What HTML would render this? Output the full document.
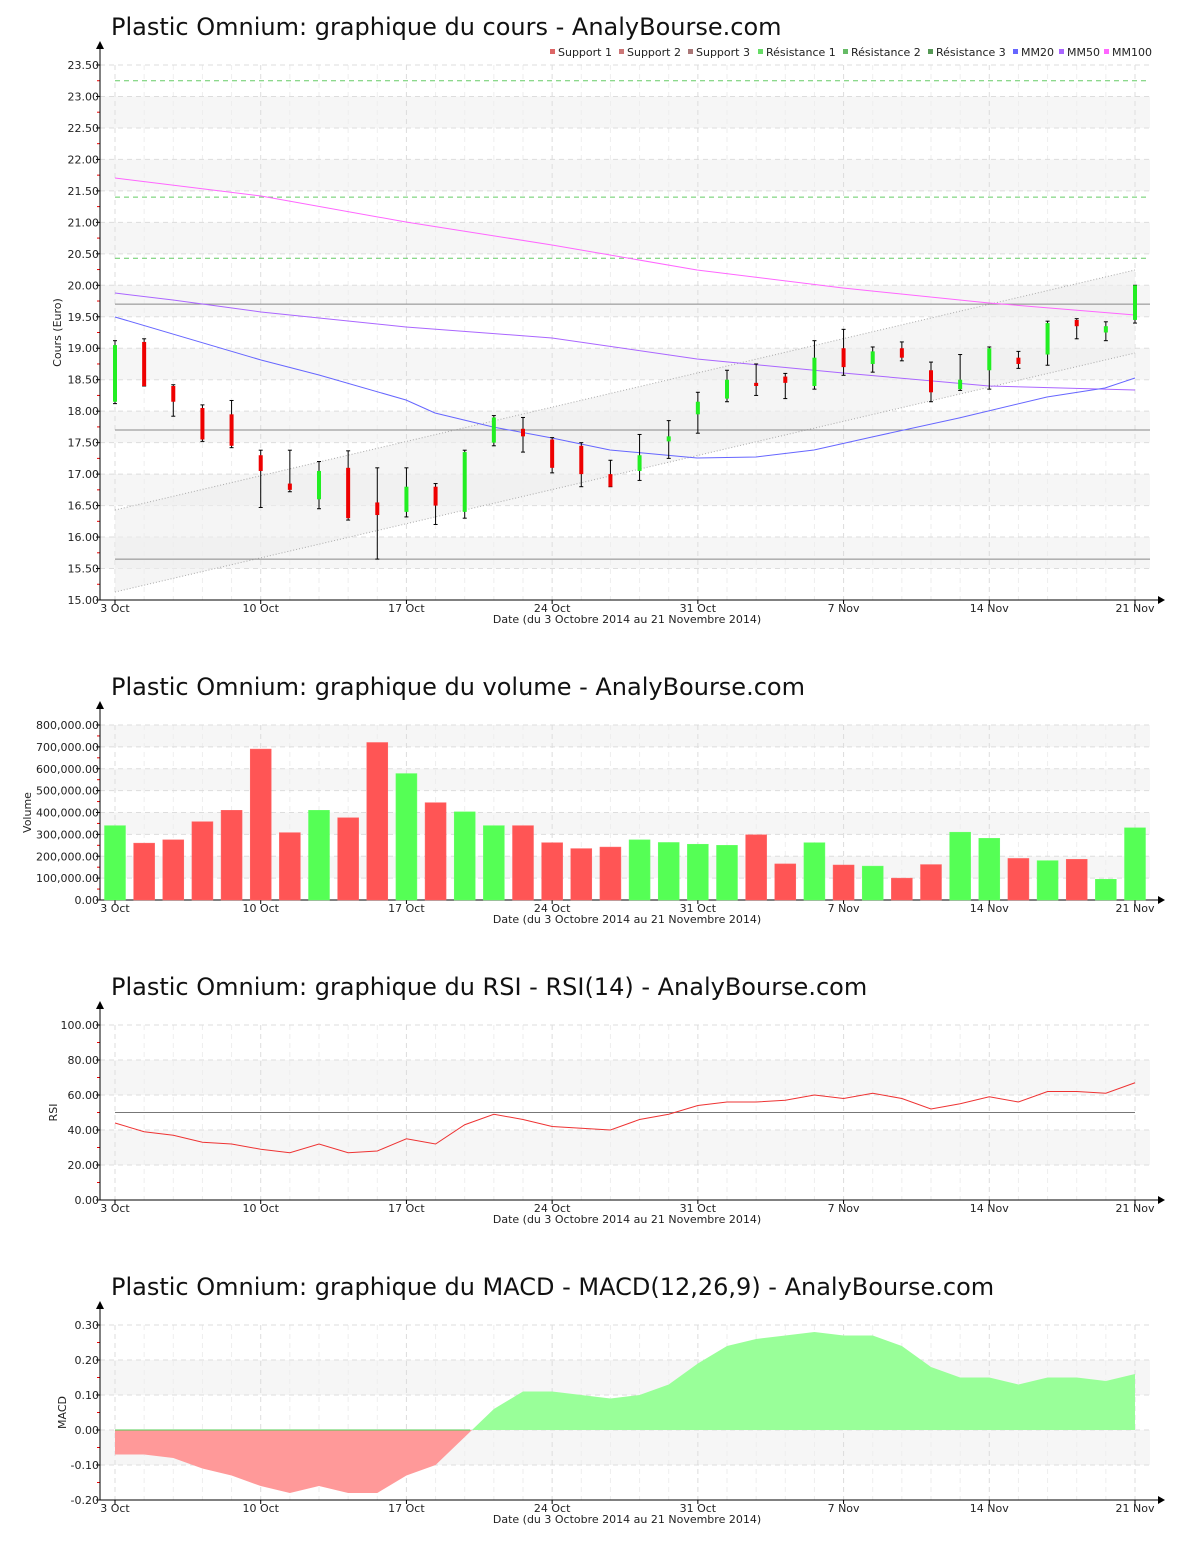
<!DOCTYPE html><html><head><meta charset="utf-8"><style>body{margin:0;background:#fff}svg{display:block}text{font-family:"DejaVu Sans","Liberation Sans",sans-serif}</style></head><body>
<svg id="s" width="1200" height="1550" xmlns="http://www.w3.org/2000/svg"></svg>
<script>
const s=document.getElementById('s');let h='';
const X=i=>115+i*1020/35;
const dates=[[0,'3 Oct'],[5,'10 Oct'],[10,'17 Oct'],[15,'24 Oct'],[20,'31 Oct'],[25,'7 Nov'],[30,'14 Nov'],[35,'21 Nov']];
function panel(title,ty,top,bot,vmin,vmax,step,fmt,bands,ylab,ylx){
 const Y=v=>bot-(v-vmin)/(vmax-vmin)*(bot-top);
 h+=`<text x="111" y="${ty}" font-size="24" fill="#111">${title}</text>`;
 for(const b of bands)h+=`<rect x="100" y="${Y(b[1])}" width="1050" height="${Y(b[0])-Y(b[1])}" fill="#f6f6f6"/>`;
 for(let i=0;i<36;i++){const w=dates.some(d=>d[0]==i);h+=`<line x1="${X(i)}" x2="${X(i)}" y1="${top}" y2="${bot}" stroke="${w?'#ddd':'#eee'}" stroke-dasharray="5,4"/>`;}
 const half=(Y(vmin)-Y(vmin+step))/2;
 for(let v=vmin;v<=vmax+1e-9;v+=step){const y=Y(v);h+=`<line x1="100" x2="1150" y1="${y}" y2="${y}" stroke="#ddd" stroke-dasharray="5,4"/><line x1="96" x2="100" y1="${y}" y2="${y}" stroke="#000"/><text x="99" y="${y+4}" font-size="11" text-anchor="end" fill="#222">${fmt(v)}</text>`;
  if(v<vmax-1e-9)h+=`<line x1="97" x2="100" y1="${y-half}" y2="${y-half}" stroke="#e00"/>`;}
 h+=`<line x1="100" x2="100" y1="${top-20}" y2="${bot}" stroke="#000"/><path d="M96 ${top-16}L100 ${top-24}L104 ${top-16}Z"/><line x1="100" x2="1160" y1="${bot}" y2="${bot}" stroke="#000"/><path d="M1158 ${bot-4}L1165 ${bot}L1158 ${bot+4}Z"/>`;
 for(const d of dates)h+=`<line x1="${X(d[0])}" x2="${X(d[0])}" y1="${bot}" y2="${bot+4}" stroke="#000"/><text x="${X(d[0])}" y="${bot+12}" font-size="11" text-anchor="middle" fill="#222">${d[1]}</text>`;
 h+=`<text x="627" y="${bot+23}" font-size="11" text-anchor="middle" fill="#222">Date (du 3 Octobre 2014 au 21 Novembre 2014)</text>`;
 const cy=(top+bot)/2;h+=`<text x="${ylx}" y="${cy}" font-size="11" text-anchor="middle" transform="rotate(-90 ${ylx} ${cy})" fill="#222">${ylab}</text>`;
 return Y;
}
let bands=[];for(let v=15.5;v<23;v+=1)bands.push([v,v+0.5]);
let Y=panel('Plastic Omnium: graphique du cours - AnalyBourse.com',35,65,600,15,23.5,0.5,v=>v.toFixed(2),bands,'Cours (Euro)',61);
h+=`<polygon points="115,510 1135,270 1135,353 115,592" fill="#eee" fill-opacity="0.6"/><line x1="115" y1="510" x2="1135" y2="270" stroke="#aaa" stroke-dasharray="1,2"/><line x1="115" y1="592" x2="1135" y2="353" stroke="#aaa" stroke-dasharray="1,2"/>`;
for(const v of [19.7,17.7,15.65])h+=`<line x1="115" x2="1150" y1="${Y(v)}" y2="${Y(v)}" stroke="#888"/>`;
for(const v of [23.25,21.4,20.43])h+=`<line x1="115" x2="1150" y1="${Y(v)}" y2="${Y(v)}" stroke="#6c6" stroke-dasharray="5,4"/>`;
h+=`<polyline fill="none" stroke="#f6f" points="115,178 261,196 406,222 552,245 697,270 843,288 989,303 1135,315"/>`;
h+=`<polyline fill="none" stroke="#a6f" points="115,293 173,300 261,312 406,327 552,338 697,359 843,373 989,386 1135,390"/>`;
h+=`<polyline fill="none" stroke="#66f" points="115,317 261,360 319,375 406,400 435,413 493,427 552,438 610,450 697,458 756,457 814,450 872,437 959,418 1047,397 1105,388 1135,378"/>`;
const C=[['g',18.15,19.05,18.12,19.12],['r',18.4,19.1,18.4,19.15],['r',18.15,18.4,17.92,18.42],['r',17.55,18.05,17.52,18.1],['r',17.45,17.95,17.42,18.17],['r',17.05,17.3,16.47,17.38],['r',16.75,16.85,16.72,17.38],['g',16.6,17.05,16.45,17.2],['r',16.3,17.1,16.27,17.37],['r',16.35,16.55,15.65,17.1],['g',16.4,16.8,16.32,17.1],['r',16.5,16.8,16.2,16.85],['g',16.4,17.35,16.3,17.38],['g',17.5,17.9,17.45,17.93],['r',17.6,17.72,17.35,17.9],['r',17.1,17.55,17.02,17.58],['r',17.0,17.45,16.8,17.5],['r',16.8,17.0,16.8,17.22],['g',17.05,17.3,16.9,17.63],['g',17.52,17.6,17.25,17.85],['g',17.95,18.15,17.65,18.3],['g',18.2,18.5,18.15,18.65],['r',18.4,18.45,18.25,18.75],['r',18.45,18.55,18.2,18.6],['g',18.4,18.85,18.35,19.12],['r',18.7,19.0,18.57,19.3],['g',18.75,18.95,18.62,19.02],['r',18.85,19.0,18.8,19.1],['r',18.3,18.65,18.15,18.78],['g',18.35,18.5,18.33,18.9],['g',18.65,19.0,18.35,19.02],['r',18.75,18.85,18.68,18.95],['g',18.9,19.4,18.73,19.43],['r',19.35,19.45,19.15,19.47],['g',19.25,19.35,19.12,19.42],['g',19.45,20.0,19.4,20.0]];
C.forEach((c,i)=>{const x=X(i);h+=`<line x1="${x}" x2="${x}" y1="${Y(c[4])}" y2="${Y(c[3])}" stroke="#000"/><line x1="${x-2}" x2="${x+2}" y1="${Y(c[4])}" y2="${Y(c[4])}" stroke="#000"/><line x1="${x-2}" x2="${x+2}" y1="${Y(c[3])}" y2="${Y(c[3])}" stroke="#000"/><rect x="${x-2}" y="${Y(c[2])}" width="4" height="${Math.max(2,Y(c[1])-Y(c[2]))}" fill="${c[0]=='g'?'#2e2':'#e00'}"/>`;});
const L=[['Support 1','#d66',550],['Support 2','#c77',619],['Support 3','#a77',688],['Résistance 1','#6d6',758],['Résistance 2','#6b6',843],['Résistance 3','#595',928],['MM20','#66f',1013],['MM50','#a6f',1059],['MM100','#f6f',1104]];
for(const l of L)h+=`<rect x="${l[2]}" y="49" width="5" height="5" fill="${l[1]}"/><text x="${l[2]+8}" y="56" font-size="11" fill="#222">${l[0]}</text>`;
bands=[[100e3,200e3],[300e3,400e3],[500e3,600e3],[700e3,800e3]];
Y=panel('Plastic Omnium: graphique du volume - AnalyBourse.com',695,725,900,0,800e3,100e3,v=>v.toLocaleString('en-US',{minimumFractionDigits:2}),bands,'Volume',31);
const V=[340,260,275,358,410,690,308,410,376,720,578,445,403,340,340,262,235,242,275,263,255,250,298,165,262,160,155,100,162,310,282,190,180,186,95,330];
V.forEach((v,i)=>{h+=`<rect x="${X(i)-10.5}" y="${Y(v*1e3)}" width="21" height="${900-Y(v*1e3)}" fill="${C[i][0]=='g'?'#5f5':'#f55'}" stroke="${C[i][0]=='g'?'#6f6':'#f66'}" stroke-width="0.5"/>`;});
Y=panel('Plastic Omnium: graphique du RSI - RSI(14) - AnalyBourse.com',995,1025,1200,0,100,20,v=>v.toFixed(2),[[20,40],[60,80]],'RSI',57);
h+=`<line x1="115" x2="1135" y1="${Y(50)}" y2="${Y(50)}" stroke="#777"/>`;
const R=[44,39,37,33,32,29,27,32,27,28,35,32,43,49,46,42,41,40,46,49,54,56,56,57,60,58,61,58,52,55,59,56,62,62,61,67];
h+=`<polyline fill="none" stroke="#e33" points="${R.map((r,i)=>X(i)+','+Y(r)).join(' ')}"/>`;
Y=panel('Plastic Omnium: graphique du MACD - MACD(12,26,9) - AnalyBourse.com',1295,1325,1500,-0.2,0.3,0.1,v=>(Math.abs(v)<1e-9?0:v).toFixed(2),[[-0.1,0],[0.1,0.2]],'MACD',66);
const M=[-0.07,-0.07,-0.08,-0.11,-0.13,-0.16,-0.18,-0.16,-0.18,-0.18,-0.13,-0.10,-0.02,0.06,0.11,0.11,0.10,0.09,0.10,0.13,0.19,0.24,0.26,0.27,0.28,0.27,0.27,0.24,0.18,0.15,0.15,0.13,0.15,0.15,0.14,0.16];
const z=Y(0),pts=M.map((m,i)=>X(i)+','+Y(m)).join(' ');
h+=`<defs><clipPath id="a"><rect x="0" y="0" width="1200" height="${z}"/></clipPath><clipPath id="b"><rect x="0" y="${z}" width="1200" height="200"/></clipPath></defs>`;
h+=`<polygon clip-path="url(#a)" fill="#9f9" points="115,${z} ${pts} 1135,${z}"/><polygon clip-path="url(#b)" fill="#f99" points="115,${z} ${pts} 1135,${z}"/>`;
h+=`<line x1="115" x2="470" y1="${z}" y2="${z}" stroke="#5c5"/>`;
s.innerHTML=h;
</script></body></html>
